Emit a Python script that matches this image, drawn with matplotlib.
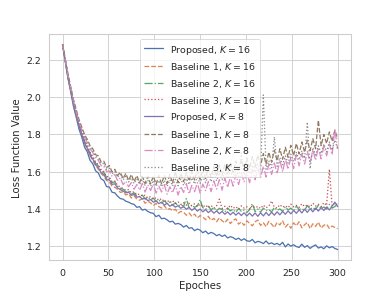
import numpy as np
import matplotlib
matplotlib.use('Agg')
import matplotlib.pyplot as plt
import seaborn as sns

# epochs sampled every 3 steps
epochs = list(range(0, 301, 3))

prop_16 = [2.280, 2.188, 2.096, 2.025, 1.946, 1.889, 1.826, 1.784, 1.731, 1.705, 1.660, 1.641, 1.604, 1.592, 1.561, 1.552, 1.519, 1.517, 1.489, 1.486,
           1.468, 1.455, 1.452, 1.441, 1.436, 1.428, 1.424, 1.408, 1.412, 1.393, 1.398, 1.386, 1.379, 1.376, 1.358, 1.366, 1.347, 1.350, 1.341, 1.330,
           1.334, 1.318, 1.322, 1.316, 1.302, 1.311, 1.296, 1.299, 1.283, 1.292, 1.286, 1.272, 1.281, 1.266, 1.274, 1.268, 1.256, 1.263, 1.252, 1.260,
           1.244, 1.251, 1.246, 1.236, 1.243, 1.231, 1.240, 1.229, 1.226, 1.236, 1.218, 1.226, 1.222, 1.214, 1.228, 1.212, 1.218, 1.209, 1.215, 1.206,
           1.221, 1.196, 1.212, 1.200, 1.208, 1.198, 1.193, 1.211, 1.194, 1.203, 1.188, 1.199, 1.207, 1.190, 1.196, 1.186, 1.202, 1.191, 1.198, 1.188,
           1.182]
base1_16 = [2.280, 2.192, 2.104, 2.030, 1.958, 1.897, 1.842, 1.795, 1.752, 1.718, 1.684, 1.660, 1.632, 1.613, 1.590, 1.574, 1.552, 1.544, 1.522, 1.516,
            1.505, 1.488, 1.492, 1.474, 1.481, 1.458, 1.470, 1.452, 1.446, 1.455, 1.430, 1.441, 1.432, 1.418, 1.429, 1.412, 1.404, 1.418, 1.396, 1.401,
            1.389, 1.398, 1.377, 1.386, 1.382, 1.366, 1.378, 1.360, 1.372, 1.351, 1.364, 1.356, 1.342, 1.360, 1.338, 1.349, 1.331, 1.352, 1.336, 1.325,
            1.344, 1.321, 1.338, 1.346, 1.318, 1.330, 1.312, 1.336, 1.322, 1.309, 1.331, 1.340, 1.311, 1.326, 1.304, 1.333, 1.318, 1.300, 1.327, 1.314,
            1.336, 1.302, 1.318, 1.296, 1.325, 1.309, 1.331, 1.298, 1.315, 1.327, 1.294, 1.320, 1.306, 1.329, 1.297, 1.312, 1.318, 1.295, 1.308, 1.300,
            1.293]
base2_16 = [2.280, 2.195, 2.110, 2.038, 1.966, 1.906, 1.850, 1.806, 1.762, 1.734, 1.696, 1.676, 1.645, 1.630, 1.604, 1.595, 1.568, 1.566, 1.540, 1.545,
            1.522, 1.510, 1.505, 1.492, 1.496, 1.478, 1.486, 1.470, 1.466, 1.474, 1.452, 1.463, 1.449, 1.457, 1.440, 1.448, 1.431, 1.443, 1.428, 1.436,
            1.420, 1.433, 1.416, 1.424, 1.412, 1.455, 1.405, 1.421, 1.408, 1.415, 1.450, 1.406, 1.398, 1.414, 1.395, 1.408, 1.390, 1.403, 1.396, 1.384,
            1.405, 1.389, 1.398, 1.381, 1.402, 1.387, 1.393, 1.380, 1.396, 1.428, 1.385, 1.399, 1.382, 1.404, 1.390, 1.396, 1.383, 1.408, 1.392, 1.400,
            1.386, 1.411, 1.394, 1.404, 1.389, 1.415, 1.396, 1.402, 1.392, 1.418, 1.398, 1.407, 1.396, 1.420, 1.401, 1.410, 1.399, 1.424, 1.404, 1.412,
            1.428]
base3_16 = [2.280, 2.198, 2.114, 2.042, 1.970, 1.912, 1.856, 1.812, 1.770, 1.738, 1.704, 1.680, 1.652, 1.636, 1.610, 1.600, 1.574, 1.570, 1.546, 1.549,
            1.526, 1.517, 1.509, 1.500, 1.503, 1.486, 1.492, 1.476, 1.479, 1.468, 1.473, 1.459, 1.466, 1.452, 1.460, 1.446, 1.455, 1.438, 1.447, 1.433,
            1.444, 1.428, 1.437, 1.424, 1.433, 1.420, 1.430, 1.416, 1.427, 1.412, 1.425, 1.410, 1.420, 1.406, 1.418, 1.404, 1.416, 1.452, 1.402, 1.414,
            1.400, 1.419, 1.403, 1.412, 1.398, 1.416, 1.404, 1.411, 1.399, 1.417, 1.405, 1.413, 1.402, 1.420, 1.406, 1.415, 1.442, 1.410, 1.404, 1.422,
            1.409, 1.417, 1.406, 1.425, 1.411, 1.419, 1.408, 1.427, 1.413, 1.421, 1.410, 1.430, 1.415, 1.424, 1.412, 1.433, 1.418, 1.612, 1.416, 1.431,
            1.422]
prop_8 = [2.280, 2.190, 2.104, 2.032, 1.960, 1.900, 1.845, 1.798, 1.755, 1.724, 1.688, 1.667, 1.636, 1.620, 1.595, 1.584, 1.558, 1.556, 1.531, 1.534,
          1.512, 1.503, 1.495, 1.486, 1.490, 1.472, 1.478, 1.462, 1.466, 1.452, 1.458, 1.444, 1.450, 1.436, 1.442, 1.428, 1.436, 1.420, 1.430, 1.414,
          1.422, 1.409, 1.417, 1.403, 1.412, 1.398, 1.408, 1.392, 1.404, 1.388, 1.399, 1.384, 1.396, 1.380, 1.392, 1.377, 1.389, 1.374, 1.386, 1.371,
          1.384, 1.368, 1.382, 1.366, 1.380, 1.364, 1.379, 1.362, 1.377, 1.361, 1.378, 1.360, 1.379, 1.362, 1.381, 1.364, 1.382, 1.366, 1.384, 1.368,
          1.386, 1.371, 1.389, 1.373, 1.392, 1.376, 1.395, 1.378, 1.398, 1.381, 1.401, 1.384, 1.404, 1.388, 1.407, 1.391, 1.410, 1.394, 1.414, 1.436,
          1.412]
base1_8 = [2.280, 2.200, 2.120, 2.052, 1.984, 1.930, 1.878, 1.838, 1.798, 1.772, 1.738, 1.722, 1.690, 1.684, 1.652, 1.655, 1.622, 1.632, 1.598, 1.612,
           1.578, 1.596, 1.562, 1.590, 1.552, 1.584, 1.546, 1.578, 1.540, 1.575, 1.536, 1.574, 1.534, 1.575, 1.532, 1.578, 1.534, 1.580, 1.536, 1.584,
           1.538, 1.600, 1.540, 1.590, 1.546, 1.594, 1.550, 1.600, 1.554, 1.606, 1.558, 1.612, 1.562, 1.618, 1.568, 1.626, 1.574, 1.634, 1.580, 1.640,
           1.588, 1.648, 1.594, 1.656, 1.600, 1.664, 1.608, 1.672, 1.616, 1.680, 1.624, 1.688, 1.632, 1.696, 1.640, 1.704, 1.650, 1.714, 1.658, 1.722,
           1.666, 1.730, 1.676, 1.740, 1.686, 1.750, 1.694, 1.758, 1.704, 1.768, 1.712, 1.776, 1.722, 1.875, 1.738, 1.798, 1.750, 1.812, 1.762, 1.822,
           1.775]
base2_8 = [2.280, 2.196, 2.114, 2.046, 1.976, 1.920, 1.866, 1.824, 1.784, 1.755, 1.722, 1.702, 1.672, 1.660, 1.632, 1.628, 1.600, 1.603, 1.574, 1.584,
           1.552, 1.566, 1.530, 1.548, 1.518, 1.541, 1.505, 1.530, 1.500, 1.536, 1.490, 1.528, 1.498, 1.533, 1.484, 1.522, 1.490, 1.530, 1.478, 1.518,
           1.486, 1.527, 1.474, 1.520, 1.488, 1.535, 1.480, 1.526, 1.492, 1.540, 1.484, 1.533, 1.498, 1.546, 1.492, 1.550, 1.506, 1.556, 1.500, 1.566,
           1.515, 1.572, 1.522, 1.585, 1.530, 1.592, 1.545, 1.598, 1.540, 1.610, 1.556, 1.618, 1.566, 1.628, 1.570, 1.640, 1.584, 1.646, 1.588, 1.660,
           1.598, 1.668, 1.612, 1.676, 1.616, 1.690, 1.630, 1.696, 1.640, 1.708, 1.646, 1.716, 1.660, 1.728, 1.668, 1.736, 1.684, 1.748, 1.690, 1.825,
           1.722]
base3_8 = [2.280, 2.197, 2.116, 2.048, 1.978, 1.924, 1.870, 1.830, 1.790, 1.762, 1.730, 1.712, 1.682, 1.672, 1.644, 1.642, 1.612, 1.618, 1.588, 1.600,
           1.570, 1.585, 1.555, 1.574, 1.544, 1.566, 1.536, 1.560, 1.530, 1.556, 1.526, 1.553, 1.522, 1.552, 1.520, 1.552, 1.518, 1.553, 1.520, 1.555,
           1.522, 1.558, 1.524, 1.560, 1.526, 1.563, 1.530, 1.566, 1.533, 1.570, 1.536, 1.574, 1.540, 1.580, 1.545, 1.586, 1.550, 1.592, 1.556, 1.598,
           1.562, 1.605, 1.568, 1.612, 1.574, 1.700, 1.580, 1.626, 1.588, 1.634, 1.596, 1.642, 1.604, 2.010, 1.612, 1.658, 1.620, 1.785, 1.628, 1.675,
           1.636, 1.684, 1.645, 1.693, 1.654, 1.702, 1.662, 1.711, 1.670, 1.865, 1.615, 1.728, 1.688, 1.738, 1.696, 1.748, 1.705, 1.758, 1.714, 1.768,
           1.722]

series = [
    (prop_16, 'Proposed, $K=16$', '-'),
    (base1_16, 'Baseline 1, $K=16$', '--'),
    (base2_16, 'Baseline 2, $K=16$', '-.'),
    (base3_16, 'Baseline 3, $K=16$', ':'),
    (prop_8, 'Proposed, $K=8$', '-'),
    (base1_8, 'Baseline 1, $K=8$', '--'),
    (base2_8, 'Baseline 2, $K=8$', '-.'),
    (base3_8, 'Baseline 3, $K=8$', ':'),
]

sns.set_theme(style='whitegrid')
colors = sns.color_palette('deep', 8)

fig, ax = plt.subplots(figsize=(6.4, 4.8), dpi=61)
for (vals, label, ls), c in zip(series, colors):
    ax.plot(epochs, vals, linestyle=ls, color=c, label=label)

ax.set_xlabel('Epoches')
ax.set_ylabel('Loss Function Value')
ax.set_xticks([0, 50, 100, 150, 200, 250, 300])
ax.legend(loc='upper center')
fig.subplots_adjust(left=0.125, right=0.9, bottom=0.11, top=0.88)
fig.savefig('out.png', dpi=61)
